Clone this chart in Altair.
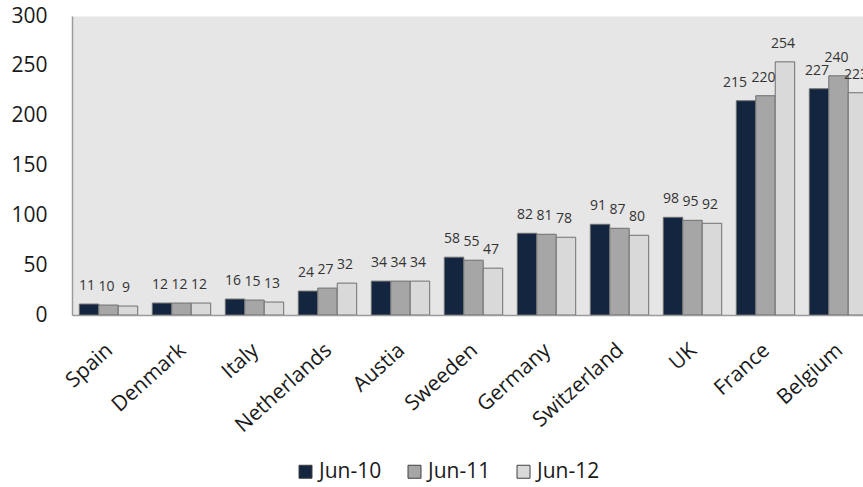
import altair as alt
import pandas as pd

countries = ["Spain", "Denmark", "Italy", "Netherlands", "Austia", "Sweeden",
             "Germany", "Switzerland", "UK", "France", "Belgium"]
periods = ["Jun-10", "Jun-11", "Jun-12"]
jun10 = [11, 12, 16, 24, 34, 58, 82, 91, 98, 215, 227]
jun11 = [10, 12, 15, 27, 34, 55, 81, 87, 95, 220, 240]
jun12 = [9, 12, 13, 32, 34, 47, 78, 80, 92, 254, 223]
colors = ["#13253F", "#A6A6A6", "#D9D9D9"]

rows = []
for series, name in zip([jun10, jun11, jun12], periods):
    for c, v in zip(countries, series):
        rows.append({"country": c, "period": name, "value": v})
df = pd.DataFrame(rows)

FONT = "Open Sans"

base = alt.Chart(df).encode(
    x=alt.X("country:N", sort=countries, title=None,
            scale=alt.Scale(range=[0, 803], paddingInner=0.2, paddingOuter=0.1),
            axis=alt.Axis(labelAngle=-42, labelAlign="right", labelBaseline="top",
                          labelPadding=24, labelOffset=-6, labelFontSize=21,
                          labelColor="#1a1a1a", ticks=False, domainColor="#9A9A9A",
                          domainWidth=1.5, labelFont=FONT)),
    xOffset=alt.XOffset("period:N", sort=periods,
                        scale=alt.Scale(paddingInner=0, paddingOuter=0)),
)

bars = base.mark_bar(clip=True, stroke="#707070", strokeWidth=1).encode(
    y=alt.Y("value:Q", title=None,
            scale=alt.Scale(domain=[0, 300], nice=False),
            axis=alt.Axis(values=[0, 50, 100, 150, 200, 250, 300], grid=False,
                          ticks=False, labelPadding=25, labelFontSize=21,
                          labelColor="#1a1a1a", domainColor="#9A9A9A",
                          domainWidth=1.5, labelFont=FONT)),
    color=alt.Color("period:N", sort=periods,
                    scale=alt.Scale(domain=periods, range=colors),
                    legend=alt.Legend(title=None, orient="none", direction="horizontal",
                                      legendX=223, legendY=445,
                                      symbolType="square", symbolSize=169,
                                      symbolStrokeColor="#404040", symbolStrokeWidth=1,
                                      labelFontSize=21, labelFont=FONT,
                                      labelColor="#1a1a1a", labelOffset=3,
                                      columnPadding=22)),
)

# value labels; the France Jun-10 label is nudged left so it clears its neighbour
crowded = "datum.country == 'France' && datum.period == 'Jun-10'"
label_style = dict(clip=True, baseline="middle", dy=-18, fontSize=14,
                   font=FONT, color="#333333")

labels = base.mark_text(dx=-2, **label_style).encode(
    y="value:Q", text="value:Q",
).transform_filter("!(" + crowded + ")")

labels_nudged = base.mark_text(dx=-11, **label_style).encode(
    y="value:Q", text="value:Q",
).transform_filter(crowded)

chart = alt.layer(bars, labels, labels_nudged).properties(
    width=791, height=299,
    autosize=alt.AutoSizeParams(type="none"),
    padding={"left": 72, "top": 16, "right": 0, "bottom": 172},
).configure_view(fill="#E6E6E6", stroke="transparent")

chart.save("out.html", embed_options={"renderer": "svg", "actions": False})
